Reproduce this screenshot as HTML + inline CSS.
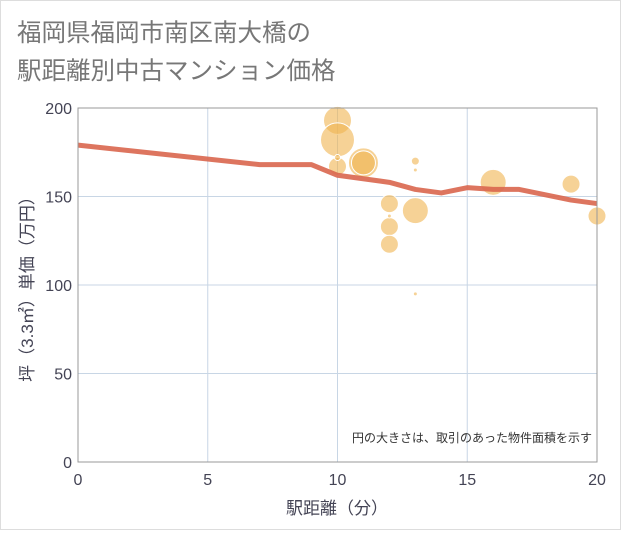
<!DOCTYPE html>
<html><head><meta charset="utf-8"><style>
body{margin:0;background:#fff;}
svg text{font-family:"Liberation Sans","Noto Sans CJK JP",sans-serif;}
</style></head><body>
<svg width="621" height="530" xmlns="http://www.w3.org/2000/svg">
<rect x="0.5" y="0.5" width="620" height="529" fill="#fff" stroke="#ddd"/>
<text x="17" y="41" font-size="24.5" fill="#777">福岡県福岡市南区南大橋の</text>
<text x="17" y="79" font-size="24.5" fill="#777">駅距離別中古マンション価格</text>
<g id="grid"></g>
<g id="marks"></g>
<rect x="78" y="108" width="519" height="354" fill="none" stroke="#999" stroke-width="1"/>
<text x="592" y="442" font-size="12" fill="#333" text-anchor="end">円の大きさは、取引のあった物件面積を示す</text>
<text x="337" y="514" font-size="17" fill="#445" text-anchor="middle">駅距離（分）</text>
<text transform="translate(33,285) rotate(-90)" font-size="17" fill="#445" text-anchor="middle">坪（3.3㎡）単価（万円）</text>
</svg>
<script>
const xTicks=[0,5,10,15,20];
const yTicks=[0,50,100,150,200];
const bubbleX=[10,10,10,10,11,11,12,12,12,12,13,13,13,13,16,19,20];
const bubbleY=[193,182,167,172,169,169,146,133,123,139,170,165,142,95,158,157,139];
const bubbleR=[14,17,9,3,15,12,9,9,9,2,4,2,13,2,13,9,9];
const lineX=[0,7,9,10,12,13,14,15,16,17,19,20];
const lineY=[179,168,168,162,158,154,152,155,154,154,148,146];
const X=v=>78+v*519/20, Y=v=>462-v*354/200;
const ns="http://www.w3.org/2000/svg";
const grid=document.getElementById('grid'), marks=document.getElementById('marks');
function mk(tag,attrs,parent){const e=document.createElementNS(ns,tag);for(const k in attrs)e.setAttribute(k,attrs[k]);parent.appendChild(e);return e;}
xTicks.forEach(t=>{
 const l=mk('line',{x1:X(t),x2:X(t),y1:108,y2:462,stroke:'#c8d6e5'},grid);
 
 
 const tx=mk('text',{x:X(t),y:485,'font-size':16,fill:'#445','text-anchor':'middle'},grid);
 tx.textContent=t;
 
 
});
yTicks.forEach(t=>{
 const l=mk('line',{x1:78,x2:597,y1:Y(t),y2:Y(t),stroke:'#c8d6e5'},grid);
 
 
 const tx=mk('text',{x:72,y:Y(t)+6,'font-size':16,fill:'#445','text-anchor':'end'},grid);
 tx.textContent=t;
 
 
});
bubbleX.forEach((v,i)=>{
 const c=mk('circle',{cx:X(v),cy:Y(bubbleY[i]),r:bubbleR[i],fill:'#f0b450','fill-opacity':0.6,stroke:'#fff','stroke-width':1},marks);
 
 
});
const p=mk('polyline',{points:lineX.map((v,i)=>X(v)+','+Y(lineY[i])).join(' '),fill:'none',stroke:'#d9664e','stroke-width':5,'stroke-linejoin':'round','stroke-opacity':0.9},marks);


</script>
</body></html>
